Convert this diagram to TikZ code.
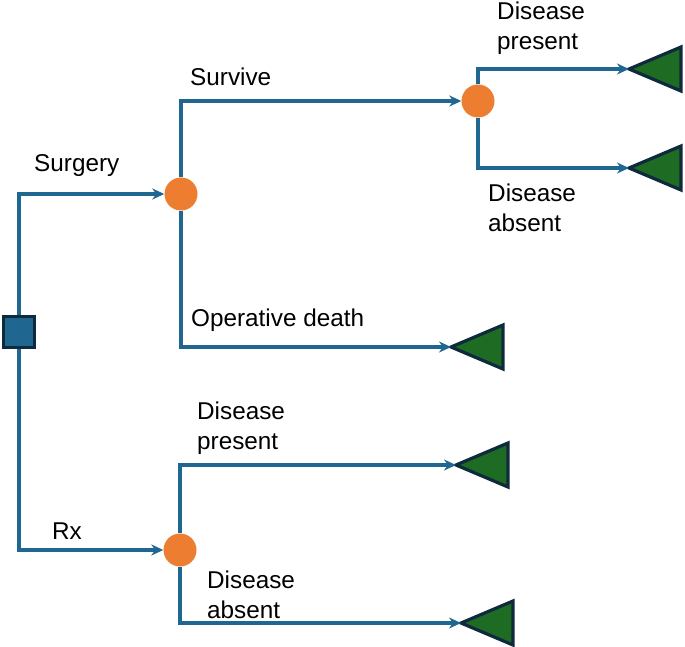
\documentclass[tikz,border=0pt]{standalone}
\usepackage{fontspec}
\setmainfont{Liberation Sans}
\usetikzlibrary{arrows.meta}
\definecolor{lineblue}{HTML}{1F6690}
\definecolor{sqfill}{HTML}{1F6690}
\definecolor{darkedge}{HTML}{0E2A3C}
\definecolor{orng}{HTML}{ED7D31}
\definecolor{leafgreen}{HTML}{1E6B24}
\tikzset{
  conn/.style={draw=lineblue, line width=3.3pt, -{Stealth[length=12pt,width=11pt]}},
  decision/.style={draw=darkedge, fill=sqfill, line width=3pt, minimum size=31pt, inner sep=0pt},
  chance/.style={circle, fill=orng, minimum size=33pt, inner sep=0pt},
  leaf/.style={draw=darkedge, fill=leafgreen, line width=3.2pt, line join=miter},
  lbl/.style={anchor=west, font=\fontsize{24.3}{29.5}\selectfont, align=left, inner sep=0pt}
}
\begin{document}
\begin{tikzpicture}[x=1pt,y=-1pt]
\useasboundingbox (0,0) rectangle (685,647);
% nodes
\node[decision] (sq) at (19,332) {};
\node[chance] (c1) at (181,194) {};
\node[chance] (c2) at (478,101) {};
\node[chance] (c3) at (180,550) {};
% terminal triangles
\coordinate (t1) at (451,347);
\coordinate (t2) at (629,69);
\coordinate (t3) at (629,168);
\coordinate (t4) at (456,465);
\coordinate (t5) at (461,623);
\foreach \t in {t1,t2,t3,t4,t5}{
  \draw[leaf] (\t) -- ++(52,-22) -- ++(0,44) -- cycle;
}
% connectors
\draw[conn] (sq.north) |- (c1.west);
\draw[conn] (sq.south) |- (c3.west);
\draw[conn] (c1.north) |- (c2.west);
\draw[conn] (c1.south) |- (t1);
\draw[conn] (c2.north) |- (t2);
\draw[conn] (c2.south) |- (t3);
\draw[conn] (c3.north) |- (t4);
\draw[conn] (c3.south) |- (t5);
% labels
\node[lbl] (l1) at (34,166) {Surgery};
\node[lbl] (l2) at (190,77) {Survive};
\node[lbl] (l3) at (497,28) {Disease\\present};
\node[lbl] (l4) at (488,208) {Disease\\absent};
\node[lbl] (l5) at (191,320) {Operative death};
\node[lbl] (l6) at (197,428) {Disease\\present};
\node[lbl] (l7) at (52,531) {Rx};
\node[lbl] (l8) at (207,595) {Disease\\absent};
\end{tikzpicture}
\end{document}
